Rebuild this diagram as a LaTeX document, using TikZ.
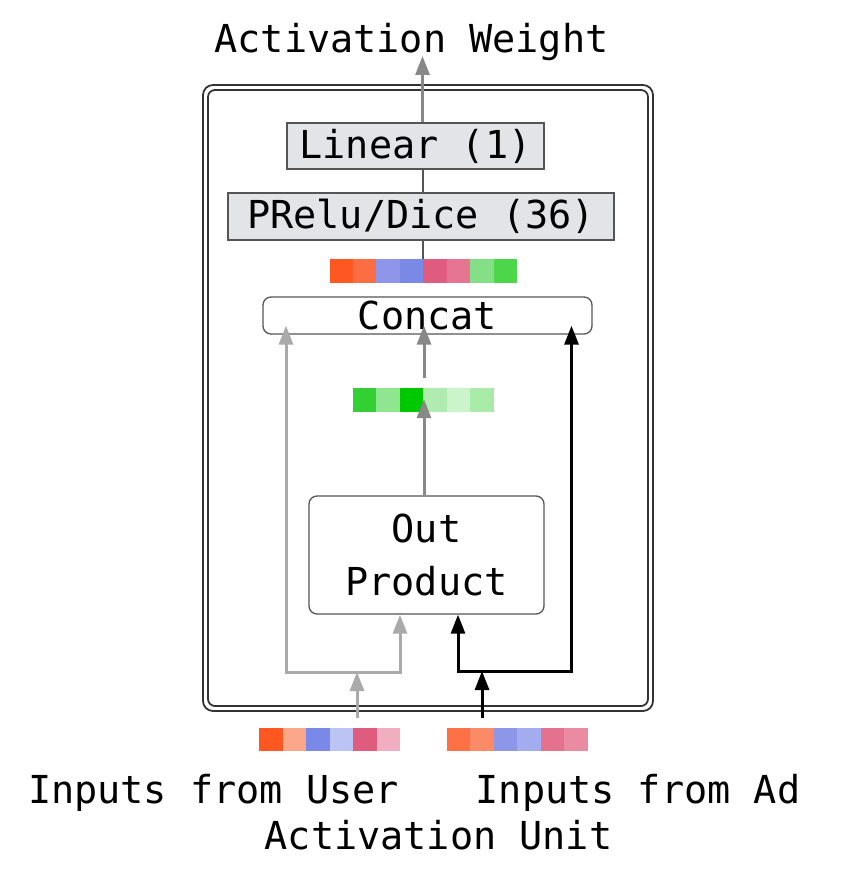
\documentclass[tikz,border=0pt]{standalone}
\usepackage{fontspec}
\setmainfont{DejaVu Sans Mono}
\usetikzlibrary{arrows.meta,calc}
\definecolor{boxgray}{HTML}{E3E4E8}
\definecolor{lgray}{HTML}{AAAAAA}
\definecolor{mgray}{HTML}{888888}
\definecolor{dgray}{HTML}{555555}
\definecolor{frame}{HTML}{333333}
% bar 1
\definecolor{aa1}{HTML}{FF5722}\definecolor{aa2}{HTML}{FB6D42}\definecolor{aa3}{HTML}{8F95E8}\definecolor{aa4}{HTML}{7A88E6}
\definecolor{aa5}{HTML}{E05C7E}\definecolor{aa6}{HTML}{E67592}\definecolor{aa7}{HTML}{84E087}\definecolor{aa8}{HTML}{4CD64A}
% green bar
\definecolor{gg1}{HTML}{33D033}\definecolor{gg2}{HTML}{90E590}\definecolor{gg3}{HTML}{00C800}
\definecolor{gg4}{HTML}{B0ECB0}\definecolor{gg5}{HTML}{CCF4CC}\definecolor{gg6}{HTML}{A8ECA8}
% user bar
\definecolor{uu1}{HTML}{FF5722}\definecolor{uu2}{HTML}{FCA78A}\definecolor{uu3}{HTML}{7A88E8}
\definecolor{uu4}{HTML}{BCC4F4}\definecolor{uu5}{HTML}{E05C7E}\definecolor{uu6}{HTML}{F0AEC0}
% ad bar
\definecolor{dd1}{HTML}{FE7045}\definecolor{dd2}{HTML}{FC8A66}\definecolor{dd3}{HTML}{8E96E8}
\definecolor{dd4}{HTML}{A2ACEE}\definecolor{dd5}{HTML}{E4728E}\definecolor{dd6}{HTML}{EA8BA2}

% #1 name, #2 left x, #3 top y, #4 number of cells, #5 colour list
\newcommand{\cellbar}[5]{%
  \foreach \cc [count=\ii from 0] in {#5} {
    \fill[\cc] ({#2+23.45*\ii},#3) rectangle ++(23.45,23.5);
  }
  \node[inner sep=0pt, minimum width={#4*23.45pt}, minimum height=23.5pt, anchor=north west] (#1) at (#2,#3) {};
}

\begin{document}
\begin{tikzpicture}[x=1pt,y=-1pt,
  lbl/.style={font=\fontsize{38.5}{53}\selectfont},
  graybox/.style={draw=dgray, line width=1.3pt, fill=boxgray, inner sep=0pt, lbl},
  rbox/.style={draw=dgray, line width=1.3pt, fill=white, rounded corners=8pt, inner sep=0pt, lbl},
  tip/.style={-{Triangle[length=19pt 0 0,width=14pt 0 0]}},
  both/.style={{Triangle[length=19pt 0 0,width=14pt 0 0]}-{Triangle[length=19pt 0 0,width=14pt 0 0]}},
  lgarrow/.style={draw=lgray, line width=3pt, tip},
  mgarrow/.style={draw=mgray, line width=3pt, tip},
  barrow/.style={draw=black, line width=3pt, tip},
  thin/.style={draw=dgray, line width=2pt}
]
\useasboundingbox (0,0) rectangle (844,874);

% frame
\draw[frame, line width=1.8pt, rounded corners=10pt] (203,85) rectangle (653,711);
\draw[frame, line width=1.8pt, rounded corners=7pt] (208,90) rectangle (648,706);

% title and bottom labels
\node[lbl, anchor=base, inner sep=0pt] (title) at (411.5,53) {Activation Weight};
\node[lbl, anchor=base, inner sep=0pt] (user) at (213.5,803) {Inputs from User};
\node[lbl, anchor=base, inner sep=0pt] (ad) at (638,803) {Inputs from Ad};
\node[lbl, anchor=base, inner sep=0pt] (unit) at (438.5,849) {Activation Unit};

% boxes
\node[graybox, minimum width=257pt, minimum height=46pt] (linear) at (415.5,146) {Linear (1)};
\node[graybox, minimum width=386pt, minimum height=47pt] (prelu) at (421,216.5) {PRelu/Dice (36)};
\node[rbox, minimum width=329pt, minimum height=37pt] (concat) at (427.5,315.5) {Concat};
\node[rbox, minimum width=235pt, minimum height=118pt, align=center] (op) at (426.5,555) {Out\\Product};

% colour bars
\cellbar{bar1}{329.5}{259.3}{8}{aa1,aa2,aa3,aa4,aa5,aa6,aa7,aa8}
\cellbar{gbar}{352.8}{388.3}{6}{gg1,gg2,gg3,gg4,gg5,gg6}
\cellbar{ubar}{259.3}{727.5}{6}{uu1,uu2,uu3,uu4,uu5,uu6}
\cellbar{abar}{446.8}{727.5}{6}{dd1,dd2,dd3,dd4,dd5,dd6}

% top connectors
\coordinate (tt) at (422.5,56);
\draw[mgarrow] (linear.north -| tt) -- (tt);
\draw[thin] (linear.south -| tt) -- (prelu.north -| tt);
\draw[thin] (prelu.south -| tt) -- (bar1.north -| tt);

% middle connectors
\coordinate (mid) at (424,0);
\draw[mgarrow] ($(gbar.north -| mid)+(0,-10)$) -- ($(concat.south -| mid)+(0,-9)$);
\draw[mgarrow] (op.north -| mid) -- ($(gbar.south -| mid)+(0,-13)$);

% gray (user) path
\coordinate (gL) at (286,672);
\coordinate (gR) at (400,672);
\coordinate (gin) at (357,718);
\draw[draw=lgray, line width=3pt, both]
  ($(concat.south -| gL)+(0,-9)$) -- (gL) -- (gR) -- (op.south -| gR);
\draw[lgarrow] (gin) -- (gin |- gL);

% black (ad) path
\coordinate (bL) at (458,671);
\coordinate (bR) at (571.5,671);
\coordinate (bin) at (482,718);
\draw[draw=black, line width=3pt, both]
  (op.south -| bL) -- (bL) -- (bR) -- ($(concat.south -| bR)+(0,-9)$);
\draw[barrow] (bin) -- (bin |- bL);

\end{tikzpicture}
\end{document}
